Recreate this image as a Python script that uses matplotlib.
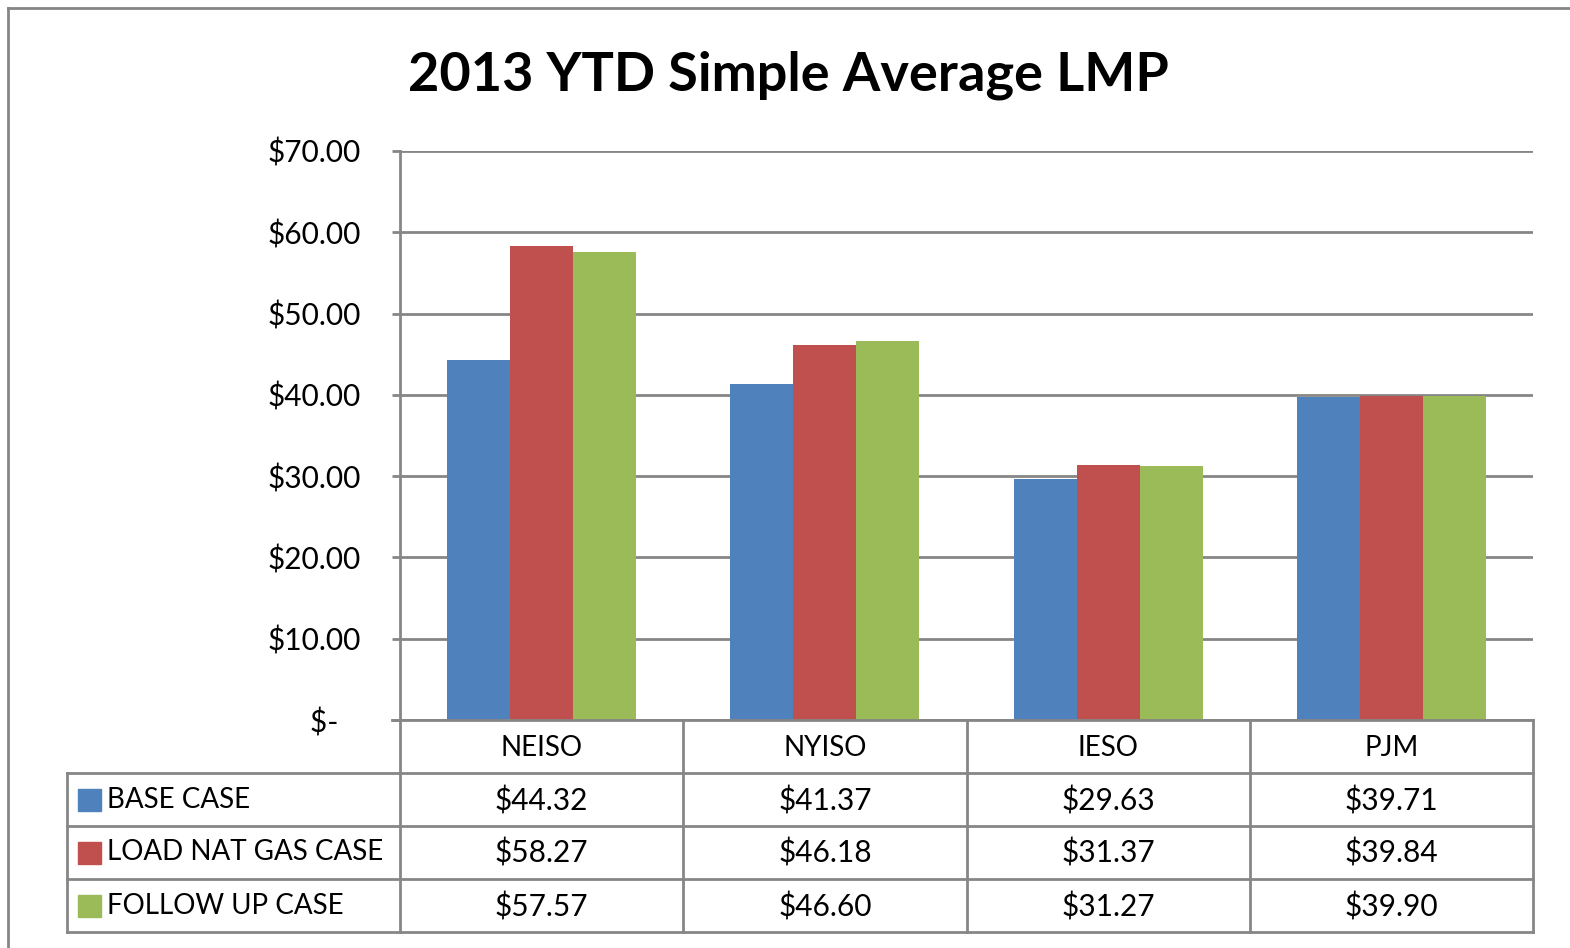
import numpy as np
import matplotlib.pyplot as plt
from matplotlib.lines import Line2D
from matplotlib.patches import Rectangle

# data
regions = ["NEISO", "NYISO", "IESO", "PJM"]
cases = ["BASE CASE", "LOAD NAT GAS CASE", "FOLLOW UP CASE"]
base_case = [44.32, 41.37, 29.63, 39.71]
load_nat_gas = [58.27, 46.18, 31.37, 39.84]
follow_up = [57.57, 46.60, 31.27, 39.90]
colors = ["#4F81BD", "#C0504D", "#9BBB59"]
yticks = [0, 10, 20, 30, 40, 50, 60, 70]

series = [base_case, load_nat_gas, follow_up]

plt.rcParams["font.family"] = ["Lato", "DejaVu Sans"]

W, H = 1570, 948
fig = plt.figure(figsize=(W / 100, H / 100), dpi=100)

# layout in pixels
px_left, px_right = 400, 1533
px_top, px_bottom = 151, 720
row_h = 53
tbl_left = 67
grid_col = "#868686"
fs_txt = 20
fs_num = 21.5


def fx(x):
    return x / W


def fy(y):
    return 1 - y / H


# ============================================================
# bar plot
# ============================================================
ax = fig.add_axes([fx(px_left), fy(px_bottom), fx(px_right - px_left),
                   (px_bottom - px_top) / H])
n = len(regions)
x = np.arange(n)
bw = 1 / 4.5
for i, vals in enumerate(series):
    ax.bar(x + (i - 1) * bw, vals, width=bw, color=colors[i], zorder=3)

ax.set_xlim(-0.5, n - 0.5)
ax.set_ylim(0, 70)
ax.set_yticks(yticks)
ax.set_yticklabels([f"${v:.2f}" if v else "$-   " for v in yticks], fontsize=fs_num)
ax.set_xticks([])
ax.grid(axis="y", color=grid_col, linewidth=2, zorder=0)
for s in ["top", "right"]:
    ax.spines[s].set_visible(False)
ax.spines["left"].set_color(grid_col)
ax.spines["left"].set_linewidth(2)
ax.spines["bottom"].set_visible(False)
ax.tick_params(axis="y", length=6, width=2, color=grid_col, pad=22)

# ============================================================
# data table
# ============================================================
ov = fig.add_axes([0, 0, 1, 1])
ov.set_xlim(0, W)
ov.set_ylim(H, 0)
ov.axis("off")

col_w = (px_right - px_left) / n
lw = 2
y_rows = [px_bottom + k * row_h for k in range(len(cases) + 2)]

# horizontal lines
ov.add_line(Line2D([px_left - 8, px_right], [y_rows[0]] * 2, color=grid_col, lw=lw))
for y in y_rows[1:]:
    ov.add_line(Line2D([tbl_left, px_right], [y, y], color=grid_col, lw=lw))
# vertical lines
for k in range(n + 1):
    xx = px_left + k * col_w
    ov.add_line(Line2D([xx, xx], [y_rows[0], y_rows[-1]], color=grid_col, lw=lw))
ov.add_line(Line2D([tbl_left, tbl_left], [y_rows[1], y_rows[-1]], color=grid_col, lw=lw))

for k, r in enumerate(regions):
    ov.text(px_left + (k + 0.5) * col_w, (y_rows[0] + y_rows[1]) / 2 + 2, r,
            ha="center", va="center", fontsize=fs_txt)

for i, (name, vals) in enumerate(zip(cases, series)):
    yc = (y_rows[i + 1] + y_rows[i + 2]) / 2
    ov.add_patch(Rectangle((78, yc - 11), 23, 22, color=colors[i]))
    ov.text(107, yc, name, ha="left", va="center", fontsize=fs_txt)
    for k, v in enumerate(vals):
        ov.text(px_left + (k + 0.5) * col_w, yc + 1, f"${v:.2f}",
                ha="center", va="center", fontsize=fs_num)

# outer chart border
ov.add_line(Line2D([8, W], [8, 8], color=grid_col, lw=lw))
ov.add_line(Line2D([8, 8], [8, H], color=grid_col, lw=lw))

fig.text(fx(788), fy(75), "2013 YTD Simple Average LMP", ha="center", va="center",
         fontsize=39, fontweight="bold")

fig.savefig("out.png", dpi=100)
